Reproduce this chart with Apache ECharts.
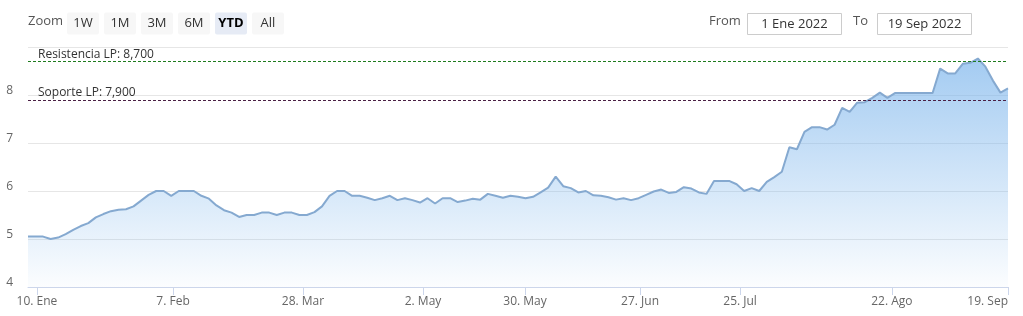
<!DOCTYPE html>
<html>
<head>
<meta charset="utf-8">
<script src="https://cdn.jsdelivr.net/npm/echarts@6/dist/echarts.min.js"></script>
<style>
html,body{margin:0;padding:0;background:#fff;overflow:hidden;}
#chart{width:1023px;height:316px;}
</style>
</head>
<body>
<div id="chart"></div>
<script>
// Closing prices per trading point (evenly spaced, ordinal axis)
const values = [
  5.05,5.05,5.05,5.0,5.03,5.1,5.19,5.27,5.33,5.45,
  5.52,5.58,5.61,5.62,5.68,5.8,5.92,6.0,6.0,5.9,
  6.0,6.0,6.0,5.9,5.84,5.7,5.6,5.55,5.46,5.5,
  5.5,5.55,5.55,5.5,5.55,5.55,5.5,5.5,5.56,5.68,
  5.9,6.0,6.0,5.9,5.9,5.86,5.81,5.85,5.9,5.81,
  5.85,5.81,5.76,5.85,5.74,5.85,5.85,5.77,5.8,5.84,
  5.82,5.94,5.9,5.86,5.9,5.88,5.85,5.88,5.97,6.07,
  6.3,6.1,6.06,5.97,6.0,5.91,5.9,5.87,5.82,5.85,
  5.81,5.85,5.92,5.99,6.03,5.96,5.98,6.08,6.05,5.97,
  5.94,6.21,6.21,6.21,6.14,6.0,6.06,6.0,6.19,6.29,
  6.4,6.91,6.87,7.23,7.33,7.33,7.28,7.38,7.73,7.65,
  7.84,7.85,7.94,8.05,7.94,8.04,8.04,8.04,8.04,8.04,
  8.04,8.55,8.45,8.45,8.65,8.67,8.76,8.59,8.3,8.05,
  8.14
];
// x-axis tick labels and their positions (in point index units)
const tickLabels = ['10. Ene','7. Feb','28. Mar','2. May','30. May','27. Jun','25. Jul','22. Ago','19. Sep'];
const tickPos = [1.19, 19.24, 36.48, 52.4, 65.93, 81.19, 94.46, 114.6, 130];
// reference levels
const resistencia = 8.7;
const soporte = 7.9;
const resistenciaLabel = 'Resistencia LP: 8,700';
const soporteLabel = 'Soporte LP: 7,900';
// toolbar texts
const zoomButtons = ['1W','1M','3M','6M','YTD','All'];
const selectedButton = 'YTD';
const fromDate = '1 Ene 2022';
const toDate = '19 Sep 2022';

const FONT = '"Open Sans", "DejaVu Sans", sans-serif';
const seriesData = values.map((v, i) => [i, v]);

const graphics = [];
graphics.push({type:'text', left:28, top:15, style:{text:'Zoom', font:'13px ' + FONT, fill:'#555'}});
zoomButtons.forEach((b, i) => {
  const x = 67 + i * 37;
  const sel = b === selectedButton;
  graphics.push({type:'rect', shape:{x:x, y:12.5, width:32, height:22, r:2}, style:{fill: sel ? '#e6ebf5' : '#f7f7f7'}});
  graphics.push({type:'text', x:x + 16, y:23.5, style:{text:b, font:(sel ? 'bold ' : '') + '13px ' + FONT, fill: sel ? '#000' : '#333', align:'center', verticalAlign:'middle'}});
});
graphics.push({type:'text', left:709, top:15, style:{text:'From', font:'13px ' + FONT, fill:'#555'}});
graphics.push({type:'rect', shape:{x:747.5, y:13.5, width:94, height:21}, style:{fill:'#fff', stroke:'#ccc', lineWidth:1}});
graphics.push({type:'text', x:794.5, y:24, style:{text:fromDate, font:'13px ' + FONT, fill:'#333', align:'center', verticalAlign:'middle'}});
graphics.push({type:'text', left:853, top:15, style:{text:'To', font:'13px ' + FONT, fill:'#555'}});
graphics.push({type:'rect', shape:{x:877.5, y:13.5, width:94, height:21}, style:{fill:'#fff', stroke:'#ccc', lineWidth:1}});
graphics.push({type:'text', x:924.5, y:24, style:{text:toDate, font:'13px ' + FONT, fill:'#333', align:'center', verticalAlign:'middle'}});

const chart = echarts.init(document.getElementById('chart'), null, {renderer:'canvas'});
chart.setOption({
  animation:false,
  backgroundColor:'#fff',
  graphic: graphics,
  grid:{left:28, right:15, top:47, bottom:29, containLabel:false, outerBoundsMode:'none'},
  xAxis:{
    type:'value', min:0, max:values.length - 1,
    axisLine:{show:true, lineStyle:{color:'#ccd6eb', width:1}},
    axisTick:{show:true, length:8, lineStyle:{color:'#ccd6eb'}, customValues: tickPos},
    splitLine:{show:false},
    axisLabel:{
      customValues: tickPos,
      alignMaxLabel:'right',
      margin:9, color:'#666', fontSize:12, fontFamily:FONT,
      formatter:function(v){
        let best = 0, d = 1e9;
        tickPos.forEach((p, i) => { if (Math.abs(p - v) < d) { d = Math.abs(p - v); best = i; } });
        return tickLabels[best];
      }
    }
  },
  yAxis:{
    type:'value', min:4, max:9, interval:1,
    axisLine:{show:false}, axisTick:{show:false},
    splitLine:{show:true, lineStyle:{color:'#e6e6e6', width:1}},
    axisLabel:{
      margin:15, color:'#666', fontSize:12, fontFamily:FONT,
      verticalAlign:'bottom', padding:[0,0,-2,0],
      formatter:function(v){ return v === 9 ? '' : String(v); }
    }
  },
  series:[{
    type:'line',
    data: seriesData,
    symbol:'none',
    lineStyle:{color:'#85a9d0', width:2},
    areaStyle:{
      color: new echarts.graphic.LinearGradient(0,0,0,1,[
        {offset:0, color:'rgba(124,181,236,1)'},
        {offset:1, color:'rgba(124,181,236,0.04)'}
      ])
    },
    markLine:{
      silent:true,
      symbol:['none','none'],
      animation:false,
      data:[
        {yAxis: resistencia, lineStyle:{color:'#1e7b1e', type:[3,2], width:1},
         label:{show:true, position:'insideStartTop', formatter: resistenciaLabel, color:'#333', fontSize:12, fontFamily:FONT, distance:[10,1]}},
        {yAxis: soporte, lineStyle:{color:'#4a1f44', type:[3,2], width:1},
         label:{show:true, position:'insideStartTop', formatter: soporteLabel, color:'#333', fontSize:12, fontFamily:FONT, distance:[10,1]}}
      ]
    }
  }]
});
</script>
</body>
</html>
